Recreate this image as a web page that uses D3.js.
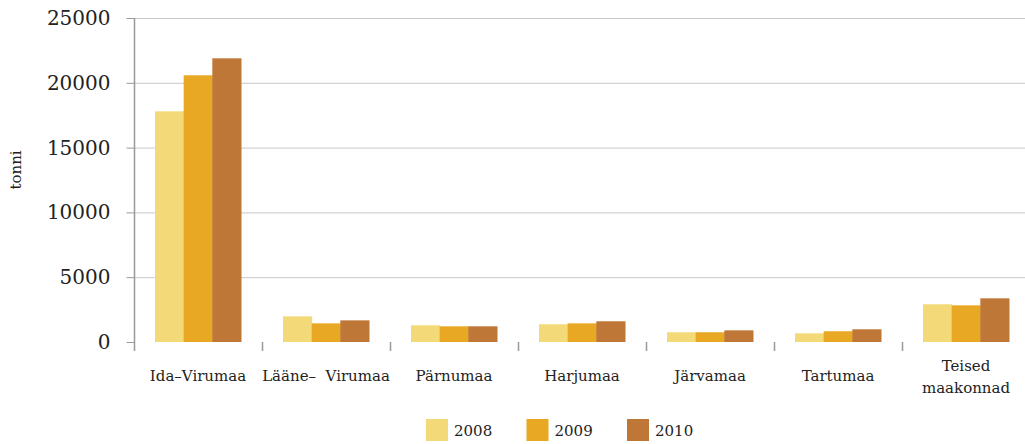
<!DOCTYPE html>
<html lang="et">
<head>
<meta charset="UTF-8">
<script src="https://d3js.org/d3.v7.min.js"></script>
<title>tonni</title>
<style>
  body { margin: 0; background: #fff; overflow: hidden; }
  text { font-family: "DejaVu Serif", "Liberation Serif", serif; fill: #222; white-space: pre; }
</style>
</head>
<body>
<script>
  // Data
  const regions = ["Ida-Virumaa", "Lääne- Virumaa", "Pärnumaa", "Harjumaa", "Järvamaa", "Tartumaa", "Teised maakonnad"];
  const regionLines = [["Ida–Virumaa"], ["Lääne–  Virumaa"], ["Pärnumaa"], ["Harjumaa"], ["Järvamaa"], ["Tartumaa"], ["Teised", "maakonnad"]];
  const years = ["2008", "2009", "2010"];
  const values2008 = [17800, 1980, 1290, 1370, 750, 670, 2910];
  const values2009 = [20580, 1440, 1210, 1440, 750, 830, 2830];
  const values2010 = [21890, 1670, 1210, 1600, 900, 980, 3370];
  const yTicks = [0, 5000, 10000, 15000, 20000, 25000];
  const colors = ["#F3D977", "#E9A823", "#BE7737"];

  const width = 1025, height = 444;
  const plotLeft = 134, plotRight = 1030, plotTop = 18, plotBottom = 342;

  const svg = d3.select("body").append("svg")
    .attr("width", width)
    .attr("height", height);

  const series = [values2008, values2009, values2010];

  const x = d3.scaleBand().domain(regions).range([plotLeft, plotRight]).paddingInner(0).paddingOuter(0);
  const xInner = d3.scaleBand().domain(years).range([21, x.bandwidth() - 21]);
  const y = d3.scaleLinear().domain([0, 25000]).range([plotBottom, plotTop]);

  // Gridlines
  svg.append("g")
    .selectAll("line")
    .data(yTicks.filter(d => d > 0))
    .enter().append("line")
    .attr("x1", plotLeft).attr("x2", width)
    .attr("y1", d => y(d) + 0.5).attr("y2", d => y(d) + 0.5)
    .attr("stroke", "#c8c8c8").attr("stroke-width", 1);

  // Bars
  const groups = svg.append("g")
    .selectAll("g")
    .data(regions)
    .enter().append("g")
    .attr("transform", d => `translate(${x(d)},0)`);

  groups.selectAll("rect")
    .data((d, i) => years.map((yr, j) => ({ yr, v: series[j][i] })))
    .enter().append("rect")
    .attr("x", d => xInner(d.yr))
    .attr("width", xInner.bandwidth() + 0.5)
    .attr("y", d => y(d.v))
    .attr("height", d => plotBottom - y(d.v))
    .attr("fill", (d, j) => colors[j]);

  // Y axis
  const yAxis = svg.append("g")
    .attr("transform", `translate(${plotLeft + 0.5},0)`)
    .call(d3.axisLeft(y).tickValues(yTicks).tickSize(8).tickPadding(16).tickFormat(d3.format("d")));
  yAxis.select(".domain").remove();
  yAxis.selectAll(".tick line").attr("stroke", "#999");
  yAxis.selectAll("text").style("font-size", "20px").attr("fill", "#222");
  svg.append("line")
    .attr("x1", plotLeft + 0.5).attr("x2", plotLeft + 0.5)
    .attr("y1", plotTop).attr("y2", plotBottom + 9)
    .attr("stroke", "#999").attr("stroke-width", 1.5);

  // X boundary ticks
  svg.append("g")
    .selectAll("line")
    .data(regions.slice(1))
    .enter().append("line")
    .attr("x1", d => x(d) + 0.5).attr("x2", d => x(d) + 0.5)
    .attr("y1", plotBottom).attr("y2", plotBottom + 9)
    .attr("stroke", "#999").attr("stroke-width", 1.5);

  // X labels
  const labels = svg.append("g")
    .selectAll("text")
    .data(regions)
    .enter().append("text")
    .attr("text-anchor", "middle")
    .style("font-size", "15px")
    .attr("transform", d => `translate(${x(d) + x.bandwidth() / 2},0)`);
  labels.each(function (d, i) {
    const lines = regionLines[i];
    const y0 = lines.length > 1 ? 371 : 381;
    d3.select(this).selectAll("tspan")
      .data(lines)
      .enter().append("tspan")
      .attr("x", 0)
      .attr("y", (l, k) => y0 + k * 22)
      .text(l => l);
  });

  // Y title
  svg.append("text")
    .attr("transform", "translate(21,170) rotate(-90)")
    .attr("text-anchor", "middle")
    .style("font-size", "15px")
    .text("tonni");

  // Legend
  const legend = svg.append("g")
    .selectAll("g")
    .data(years)
    .enter().append("g")
    .attr("transform", (d, i) => `translate(${426 + i * 100.5},419)`);
  legend.append("rect")
    .attr("width", 22).attr("height", 22)
    .attr("fill", (d, i) => colors[i]);
  legend.append("text")
    .attr("x", 28).attr("y", 17)
    .style("font-size", "15px")
    .text(d => d);
</script>
</body>
</html>
